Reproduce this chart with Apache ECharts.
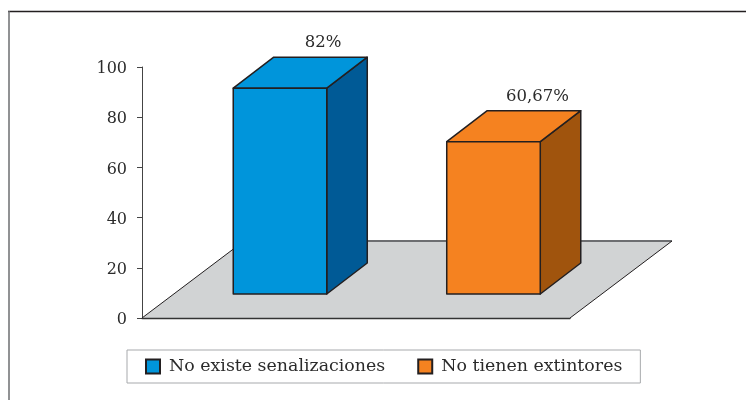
<!DOCTYPE html>
<html><head><meta charset="utf-8">
<style>html,body{margin:0;padding:0;background:#fff}#c{width:746px;height:400px}</style>
<script src="https://cdn.jsdelivr.net/npm/echarts@6/dist/echarts.min.js"></script>
</head><body><div id="c"></div>
<script>
const categories = ['No existe senalizaciones', 'No tienen extintores'];
const values = [82, 60.67];
const valueLabels = ['82%', '60,67%'];
const yTicks = [0, 20, 40, 60, 80, 100];
const FONT = '"DejaVu Serif"';
const INK = '#2b2b2b';

function bar(face, side, label) {
  return function (params, api) {
    const idx = api.value(0);
    const base = api.coord([idx, 0]);
    const top = api.coord([idx, api.value(1)]);
    const w = api.size([1, 0])[0] * 0.437;
    const cx = base[0] + 31 - idx * 0.5, by = base[1] - 24, ty = top[1] - 24;
    const l = cx - w / 2, r = cx + w / 2, dx = 40.5, dy = 31;
    const style = { stroke: '#231f20', lineWidth: 1.5, lineJoin: 'round' };
    return { type: 'group', children: [
      { type: 'polygon', shape: { points: [[r, ty], [r + dx, ty - dy], [r + dx, by - dy], [r, by]] }, style: { ...style, fill: side } },
      { type: 'polygon', shape: { points: [[l, ty], [l + dx, ty - dy], [r + dx, ty - dy], [r, ty]] }, style: { ...style, fill: face } },
      { type: 'rect', shape: { x: l, y: ty, width: r - l, height: by - ty }, style: { ...style, fill: face } },
      { type: 'text', x: cx + 43 + idx, y: ty - dy - 14, style: { text: label, fill: INK, font: '16.5px ' + FONT, align: 'center', verticalAlign: 'middle' } }
    ] };
  };
}

function floor(params, api) {
  const c = params.coordSys;
  const x0 = c.x, x1 = c.x + c.width, y0 = c.y + c.height, dx = 102, dy = 77;
  return { type: 'group', children: [
    { type: 'polygon', shape: { points: [[x0, y0], [x0 + dx, y0 - dy], [x1 + dx, y0 - dy], [x1, y0]] }, style: { fill: '#d1d3d4' } },
    { type: 'line', shape: { x1: x0 + dx, y1: y0 - dy, x2: x1 + dx, y2: y0 - dy }, style: { stroke: '#6d6e71', lineWidth: 2 } },
    { type: 'line', shape: { x1: x0, y1: y0, x2: x0 + dx, y2: y0 - dy }, style: { stroke: '#231f20', lineWidth: 1 } },
    { type: 'line', shape: { x1: x1, y1: y0, x2: x1 + dx, y2: y0 - dy }, style: { stroke: '#231f20', lineWidth: 1 } }
  ] };
}

const chart = echarts.init(document.getElementById('c'), null, { renderer: 'canvas' });
chart.setOption({
  animation: false,
  backgroundColor: '#fff',
  grid: { left: 142, right: 176, top: 67, bottom: 82 },
  xAxis: { type: 'category', data: categories, axisLine: { lineStyle: { color: '#333', width: 1.4 } }, axisTick: { show: false }, axisLabel: { show: false }, z: 5 },
  yAxis: { type: 'value', min: yTicks[0], max: yTicks[yTicks.length - 1], interval: 20,
    axisLine: { show: true, lineStyle: { color: '#444', width: 1 } },
    axisTick: { show: true, length: 5, lineStyle: { color: '#444' } },
    axisLabel: { margin: 15, formatter: '{t|{value}}',
      rich: { t: { color: INK, fontFamily: FONT, fontSize: 16, padding: [4, 0, 0, 0] } } },
    splitLine: { show: false } },
  legend: {
    data: categories, left: 127, top: 350, orient: 'horizontal',
    icon: 'rect', itemWidth: 14, itemHeight: 14, itemGap: 32,
    padding: [8, 18, 8, 18], borderColor: '#a7a9ac', borderWidth: 1, backgroundColor: '#fff',
    textStyle: { color: INK, fontFamily: FONT, fontSize: 17.4, lineHeight: 16, padding: [0, 0, 0, 4] }
  },
  graphic: [
    { type: 'line', shape: { x1: 8, y1: 11.5, x2: 746, y2: 11.5 }, style: { stroke: '#231f20', lineWidth: 1.3 }, silent: true },
    { type: 'line', shape: { x1: 9, y1: 11, x2: 9, y2: 400 }, style: { stroke: '#6d6e71', lineWidth: 1.5 }, silent: true }
  ],
  series: [
    { name: 'floor', type: 'custom', renderItem: floor, data: [[0, 0]], silent: true, z: 1 },
    { name: categories[0], type: 'custom', z: 2, renderItem: bar('#0095db', '#005a96', valueLabels[0]),
      itemStyle: { color: '#0095db', borderColor: '#231f20', borderWidth: 1 },
      encode: { x: 0, y: 1 }, data: [[0, values[0]]] },
    { name: categories[1], type: 'custom', z: 2, renderItem: bar('#f58220', '#a0540d', valueLabels[1]),
      itemStyle: { color: '#f58220', borderColor: '#231f20', borderWidth: 1 },
      encode: { x: 0, y: 1 }, data: [[1, values[1]]] }
  ]
});
</script></body></html>
